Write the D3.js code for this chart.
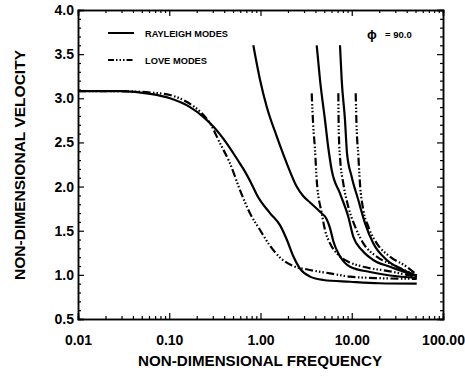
<!DOCTYPE html>
<html>
<head>
<meta charset="utf-8">
<style>
  body { margin: 0; background: #fff; }
  svg { display: block; font-family: 'Liberation Sans', Arial, sans-serif; }
  .tick text { font-weight: bold; font-size: 14px; fill: #000; }
  .domain { stroke: #000; stroke-width: 1.5; }
  .tick line { stroke: #000; stroke-width: 1.2; }
  .mode { fill: none; stroke: #000; stroke-width: 2.2; }
</style>
</head>
<body>
<svg width="465" height="376"></svg>
<script src="https://d3js.org/d3.v7.min.js"></script>
<script>
// tick labels
const xTicks = [0.01, 0.1, 1, 10, 100];
const xTickLabels = ["0.01", "0.10", "1.00", "10.00", "100.00"];
const yTicks = [0.5, 1.0, 1.5, 2.0, 2.5, 3.0, 3.5, 4.0];

// [frequency, velocity]
const rayleigh0 = [[0.01, 3.08], [0.029, 3.08], [0.062, 3.05], [0.102, 3.0], [0.169, 2.9], [0.236, 2.79],
  [0.304, 2.68], [0.426, 2.49], [0.596, 2.26], [0.649, 2.2], [0.834, 1.99], [0.908, 1.91], [1.27, 1.70],
  [1.64, 1.56], [1.94, 1.40], [2.29, 1.21], [2.71, 1.07], [3.49, 0.98], [4.88, 0.942], [9.57, 0.922],
  [20, 0.905], [51.5, 0.90]];
const love0 = [[0.01, 3.08], [0.029, 3.08], [0.062, 3.065], [0.102, 3.037], [0.155, 2.96], [0.217, 2.85],
  [0.28, 2.716], [0.36, 2.49], [0.463, 2.263], [0.596, 1.96], [0.767, 1.697], [0.989, 1.508], [1.27, 1.33],
  [1.64, 1.195], [2.29, 1.10], [3.21, 1.063], [5.78, 1.017], [9.57, 0.98], [20.4, 0.962], [51.5, 0.955]];
const rayleigh1 = [[0.834, 3.60], [0.989, 3.207], [1.17, 2.904], [1.51, 2.565], [1.94, 2.263], [2.49, 2.0],
  [2.95, 1.89], [3.49, 1.82], [4.49, 1.715], [5.31, 1.63], [5.78, 1.53], [6.28, 1.38], [7.43, 1.21],
  [9.57, 1.092], [15.85, 1.032], [26.2, 0.993], [51.5, 0.965]];
const love1 = [[3.64, 3.056], [3.79, 2.678], [3.96, 2.414], [4.13, 2.074], [4.69, 1.697], [5.09, 1.508],
  [5.78, 1.357], [7.13, 1.225], [9.16, 1.149], [13.4, 1.092], [26.2, 1.04], [51.5, 0.975]];
const rayleigh2 = [[4.13, 3.60], [4.49, 3.207], [5.09, 2.754], [5.6, 2.40], [6.03, 2.187], [7.43, 1.923],
  [9.16, 1.659], [10.4, 1.432], [12.9, 1.281], [17.2, 1.168], [26.2, 1.092], [51.5, 0.985]];
const love2 = [[7.13, 3.056], [7.2, 2.64], [7.43, 2.338], [8.08, 2.037], [9.16, 1.772], [10.9, 1.545],
  [13.4, 1.357], [18.8, 1.206], [28.5, 1.112], [51.5, 0.99]];
const rayleigh3 = [[7.43, 3.60], [7.76, 3.207], [8.43, 2.754], [8.87, 2.38], [9.98, 2.112], [11.8, 1.848],
  [14.0, 1.584], [17.2, 1.357], [24.2, 1.168], [36.7, 1.055], [51.5, 0.99]];
const love3 = [[11.05, 3.056], [11.3, 2.678], [11.8, 2.357], [12.3, 2.037], [13.4, 1.734], [15.2, 1.545],
  [18.8, 1.357], [26.2, 1.206], [40.0, 1.092], [51.5, 1.0]];

const rayleighModes = [rayleigh0, rayleigh1, rayleigh2, rayleigh3];
const loveModes = [love0, love1, love2, love3];

const width = 465, height = 376;
const margin = { top: 10, right: 22, bottom: 57, left: 78 };

let svg = d3.select("svg");

let x = d3.scaleLog().domain([0.01, 100]).range([margin.left, width - margin.right]);
let y = d3.scaleLinear().domain([0.5, 4.0]).range([height - margin.bottom, margin.top]);

let xMinor = x.ticks().filter(d => !xTicks.some(t => Math.abs(t - d) / t < 1e-6));
let yMinor = d3.range(6, 40).map(d => d / 10).filter(d => Math.round(d * 10) % 5 !== 0);

// minor ticks, all four sides, pointing inward
svg.append("g").attr("transform", `translate(0,${y(0.5)})`)
  .call(d3.axisBottom(x).tickValues(xMinor).tickSize(-3).tickFormat(""));
svg.append("g").attr("transform", `translate(0,${y(4.0)})`)
  .call(d3.axisTop(x).tickValues(xMinor).tickSize(-3).tickFormat(""));
svg.append("g").attr("transform", `translate(${x(0.01)},0)`)
  .call(d3.axisLeft(y).tickValues(yMinor).tickSize(-3).tickFormat(""));
svg.append("g").attr("transform", `translate(${x(100)},0)`)
  .call(d3.axisRight(y).tickValues(yMinor).tickSize(-3).tickFormat(""));

// major ticks
svg.append("g").attr("transform", `translate(0,${y(0.5)})`)
  .call(d3.axisBottom(x).tickValues(xTicks).tickSize(-6).tickPadding(16)
    .tickFormat((d, i) => xTickLabels[i]));
svg.append("g").attr("transform", `translate(0,${y(4.0)})`)
  .call(d3.axisTop(x).tickValues(xTicks).tickSize(-6).tickFormat(""));
svg.append("g").attr("transform", `translate(${x(0.01)},0)`)
  .call(d3.axisLeft(y).tickValues(yTicks).tickSize(-6).tickPadding(4).tickFormat(d3.format(".1f")));
svg.append("g").attr("transform", `translate(${x(100)},0)`)
  .call(d3.axisRight(y).tickValues(yTicks).tickSize(-6).tickFormat(""));

// axis titles
svg.append("text")
  .attr("x", 260).attr("y", 366)
  .attr("text-anchor", "middle")
  .attr("font-weight", "bold").attr("font-size", 15)
  .attr("textLength", 244).attr("lengthAdjust", "spacingAndGlyphs")
  .text("NON-DIMENSIONAL FREQUENCY");

svg.append("text")
  .attr("transform", "translate(25,165) rotate(-90)")
  .attr("text-anchor", "middle")
  .attr("font-weight", "bold").attr("font-size", 15)
  .attr("textLength", 230).attr("lengthAdjust", "spacingAndGlyphs")
  .text("NON-DIMENSIONAL VELOCITY");

let line = d3.line()
  .x(d => x(d[0]))
  .y(d => y(d[1]))
  .curve(d3.curveMonotoneX);

svg.append("g").selectAll("path")
  .data(rayleighModes)
  .join("path")
  .attr("class", "mode")
  .attr("d", line);

svg.append("g").selectAll("path")
  .data(loveModes)
  .join("path")
  .attr("class", "mode")
  .attr("stroke-dasharray", "8,2.5,1.5,2,1.5,2,1.5,2.5")
  .attr("d", line);

// legend
let legend = svg.append("g");
legend.append("line").attr("x1", 108).attr("x2", 134).attr("y1", 33).attr("y2", 33)
  .attr("stroke", "#000").attr("stroke-width", 2);
legend.append("text").attr("x", 145).attr("y", 36.5)
  .attr("font-weight", "bold").attr("font-size", 9.5)
  .attr("textLength", 83).attr("lengthAdjust", "spacingAndGlyphs")
  .text("RAYLEIGH MODES");
legend.append("line").attr("x1", 108).attr("x2", 134).attr("y1", 60).attr("y2", 60)
  .attr("stroke", "#000").attr("stroke-width", 2)
  .attr("stroke-dasharray", "6,2,1.5,2,1.5,2,1.5,2");
legend.append("text").attr("x", 145).attr("y", 63.5)
  .attr("font-weight", "bold").attr("font-size", 9.5)
  .attr("textLength", 62).attr("lengthAdjust", "spacingAndGlyphs")
  .text("LOVE MODES");

svg.append("text").attr("x", 367).attr("y", 39)
  .attr("font-weight", "bold").attr("font-size", 13)
  .text("ϕ");
svg.append("text").attr("x", 385).attr("y", 38)
  .attr("font-weight", "bold").attr("font-size", 9.5)
  .text("= 90.0");
</script>
</body>
</html>
